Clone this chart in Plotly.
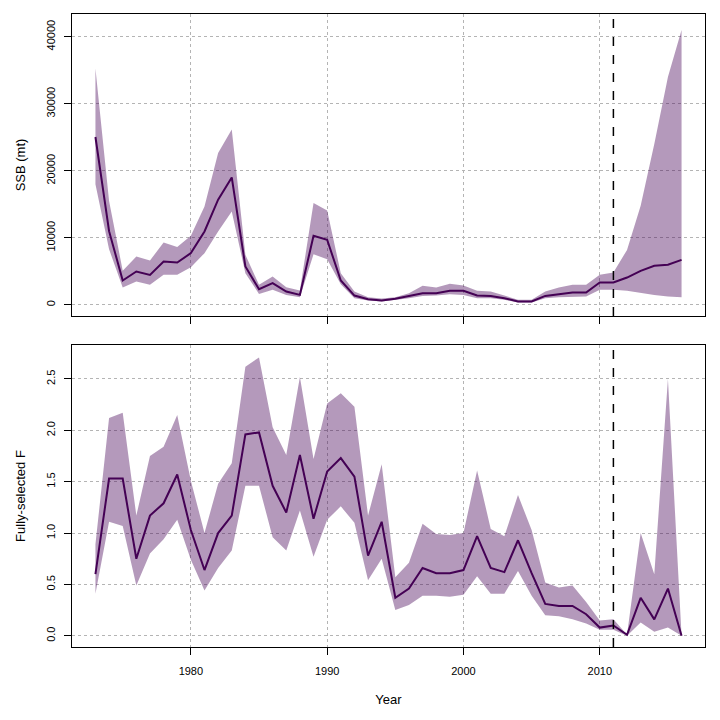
import plotly.graph_objects as go

years = list(range(1973, 2017))

ssb = [25050, 11000, 3640, 4980, 4480, 6470, 6320, 7720, 10960, 15690, 19020, 5730,
       2340, 3240, 1990, 1490, 10310, 9710, 3640, 1390, 850, 650,
       900, 1340, 1740, 1740, 2090, 2090, 1390, 1340, 1000, 500, 500, 1340,
       1590, 1840, 1840, 3340, 3340, 4080, 5080, 5830, 5980, 6720]
ssb_hi = [35260, 15500, 5100, 7220, 6620, 9310, 8620, 10310, 14690, 22660, 26150, 7470,
          2990, 4230, 2640, 2140, 15190, 14090, 4730, 1990, 1150, 950,
          1150, 1740, 2840, 2590, 3140, 2890, 2090, 1990, 1390, 750, 750, 1990,
          2590, 2990, 2990, 4480, 4830, 8200, 14800, 24000, 34000, 41000]
ssb_lo = [18000, 8300, 2590, 3490, 2990, 4480, 4480, 5630, 7720, 10960, 13940, 4730,
          1640, 2240, 1490, 1150, 7570, 6820, 3090, 1000, 650, 500,
          750, 1000, 1340, 1390, 1590, 1490, 1000, 1000, 750, 350, 350, 1000,
          1150, 1250, 1250, 2240, 2240, 2090, 1840, 1490, 1250, 1150]

f = [0.60, 1.53, 1.53, 0.75, 1.17, 1.29, 1.57, 1.03, 0.64, 1.00, 1.17, 1.96,
     1.98, 1.46, 1.20, 1.76, 1.14, 1.60, 1.73, 1.55, 0.78, 1.11,
     0.37, 0.46, 0.66, 0.61, 0.61, 0.64, 0.97, 0.66, 0.62, 0.93, 0.61, 0.31,
     0.29, 0.29, 0.21, 0.08, 0.10, 0.01, 0.37, 0.16, 0.46, 0.0]
f_hi = [0.89, 2.12, 2.17, 1.17, 1.75, 1.84, 2.15, 1.51, 1.00, 1.48, 1.68, 2.62,
        2.71, 2.03, 1.76, 2.52, 1.72, 2.26, 2.36, 2.23, 1.17, 1.67,
        0.57, 0.71, 1.09, 0.99, 0.98, 1.00, 1.61, 1.04, 0.97, 1.37, 1.03, 0.52,
        0.47, 0.49, 0.33, 0.15, 0.16, 0.01, 1.00, 0.60, 2.50, 0.01]
f_lo = [0.41, 1.11, 1.07, 0.49, 0.80, 0.94, 1.13, 0.74, 0.44, 0.66, 0.83, 1.46,
        1.46, 0.96, 0.83, 1.22, 0.77, 1.13, 1.26, 1.10, 0.54, 0.75,
        0.25, 0.30, 0.39, 0.39, 0.38, 0.40, 0.58, 0.41, 0.41, 0.63, 0.39, 0.20,
        0.19, 0.16, 0.12, 0.06, 0.06, 0.0, 0.13, 0.04, 0.08, 0.0]

x_ticks = [1980, 1990, 2000, 2010]
ssb_ticks = [0, 10000, 20000, 30000, 40000]
f_ticks = [0.0, 0.5, 1.0, 1.5, 2.0, 2.5]
f_tick_text = ["0.0", "0.5", "1.0", "1.5", "2.0", "2.5"]
term_year = 2011

band = "rgba(68,1,84,0.4)"
line = "#440154"

fig = go.Figure()

for lo, hi, mid, ax in [(ssb_lo, ssb_hi, ssb, "y"), (f_lo, f_hi, f, "y2")]:
    xa = "x" if ax == "y" else "x2"
    fig.add_trace(go.Scatter(x=years + years[::-1], y=hi + lo[::-1], fill="toself",
                             fillcolor=band, line=dict(width=0), mode="lines",
                             xaxis=xa, yaxis=ax, hoverinfo="skip"))
    fig.add_trace(go.Scatter(x=years, y=mid, mode="lines", line=dict(color=line, width=2),
                             xaxis=xa, yaxis=ax))

axis_style = dict(showline=True, mirror=True, linecolor="black", linewidth=1,
                  ticks="outside", ticklen=7, tickcolor="black", automargin=False,
                  showgrid=True, gridcolor="#b4b4b4", griddash="dot", gridwidth=1,
                  zeroline=False, tickfont=dict(size=11, color="black"))

# the page body adds an 8px offset, so the figure is 712px and sits at (8, 8)
fig.update_layout(
    width=712, height=712,
    plot_bgcolor="white", paper_bgcolor="white",
    showlegend=False,
    margin=dict(l=64, r=15, t=6, b=73),
    font=dict(family="Liberation Sans, Arial", size=11, color="black"),
    xaxis=dict(axis_style, domain=[0, 1], range=[1971.28, 2017.72], tickvals=x_ticks,
               showticklabels=False, anchor="y"),
    yaxis=dict(axis_style, domain=[0.523, 1], range=[-1650, 43400], tickvals=ssb_ticks,
               tickformat="d", tickangle=-90, ticklabelstandoff=5,
               title=dict(text="SSB (mt)", standoff=16), anchor="x"),
    xaxis2=dict(axis_style, domain=[0, 1], range=[1971.28, 2017.72], tickvals=x_ticks,
                ticklabelstandoff=7, anchor="y2", title=dict(text="Year", standoff=18)),
    yaxis2=dict(axis_style, domain=[0, 0.477], range=[-0.109, 2.83], tickvals=f_ticks,
                ticktext=f_tick_text, tickangle=-90, ticklabelstandoff=5,
                title=dict(text="Fully-selected F", standoff=16), anchor="x2"),
)

for xr, yr in [("x", "y domain"), ("x2", "y2 domain")]:
    fig.add_shape(type="line", xref=xr, yref=yr, x0=term_year, x1=term_year, y0=0, y1=1,
                  line=dict(color="black", width=1.5, dash="dash"))

fig.write_html("out.html")
